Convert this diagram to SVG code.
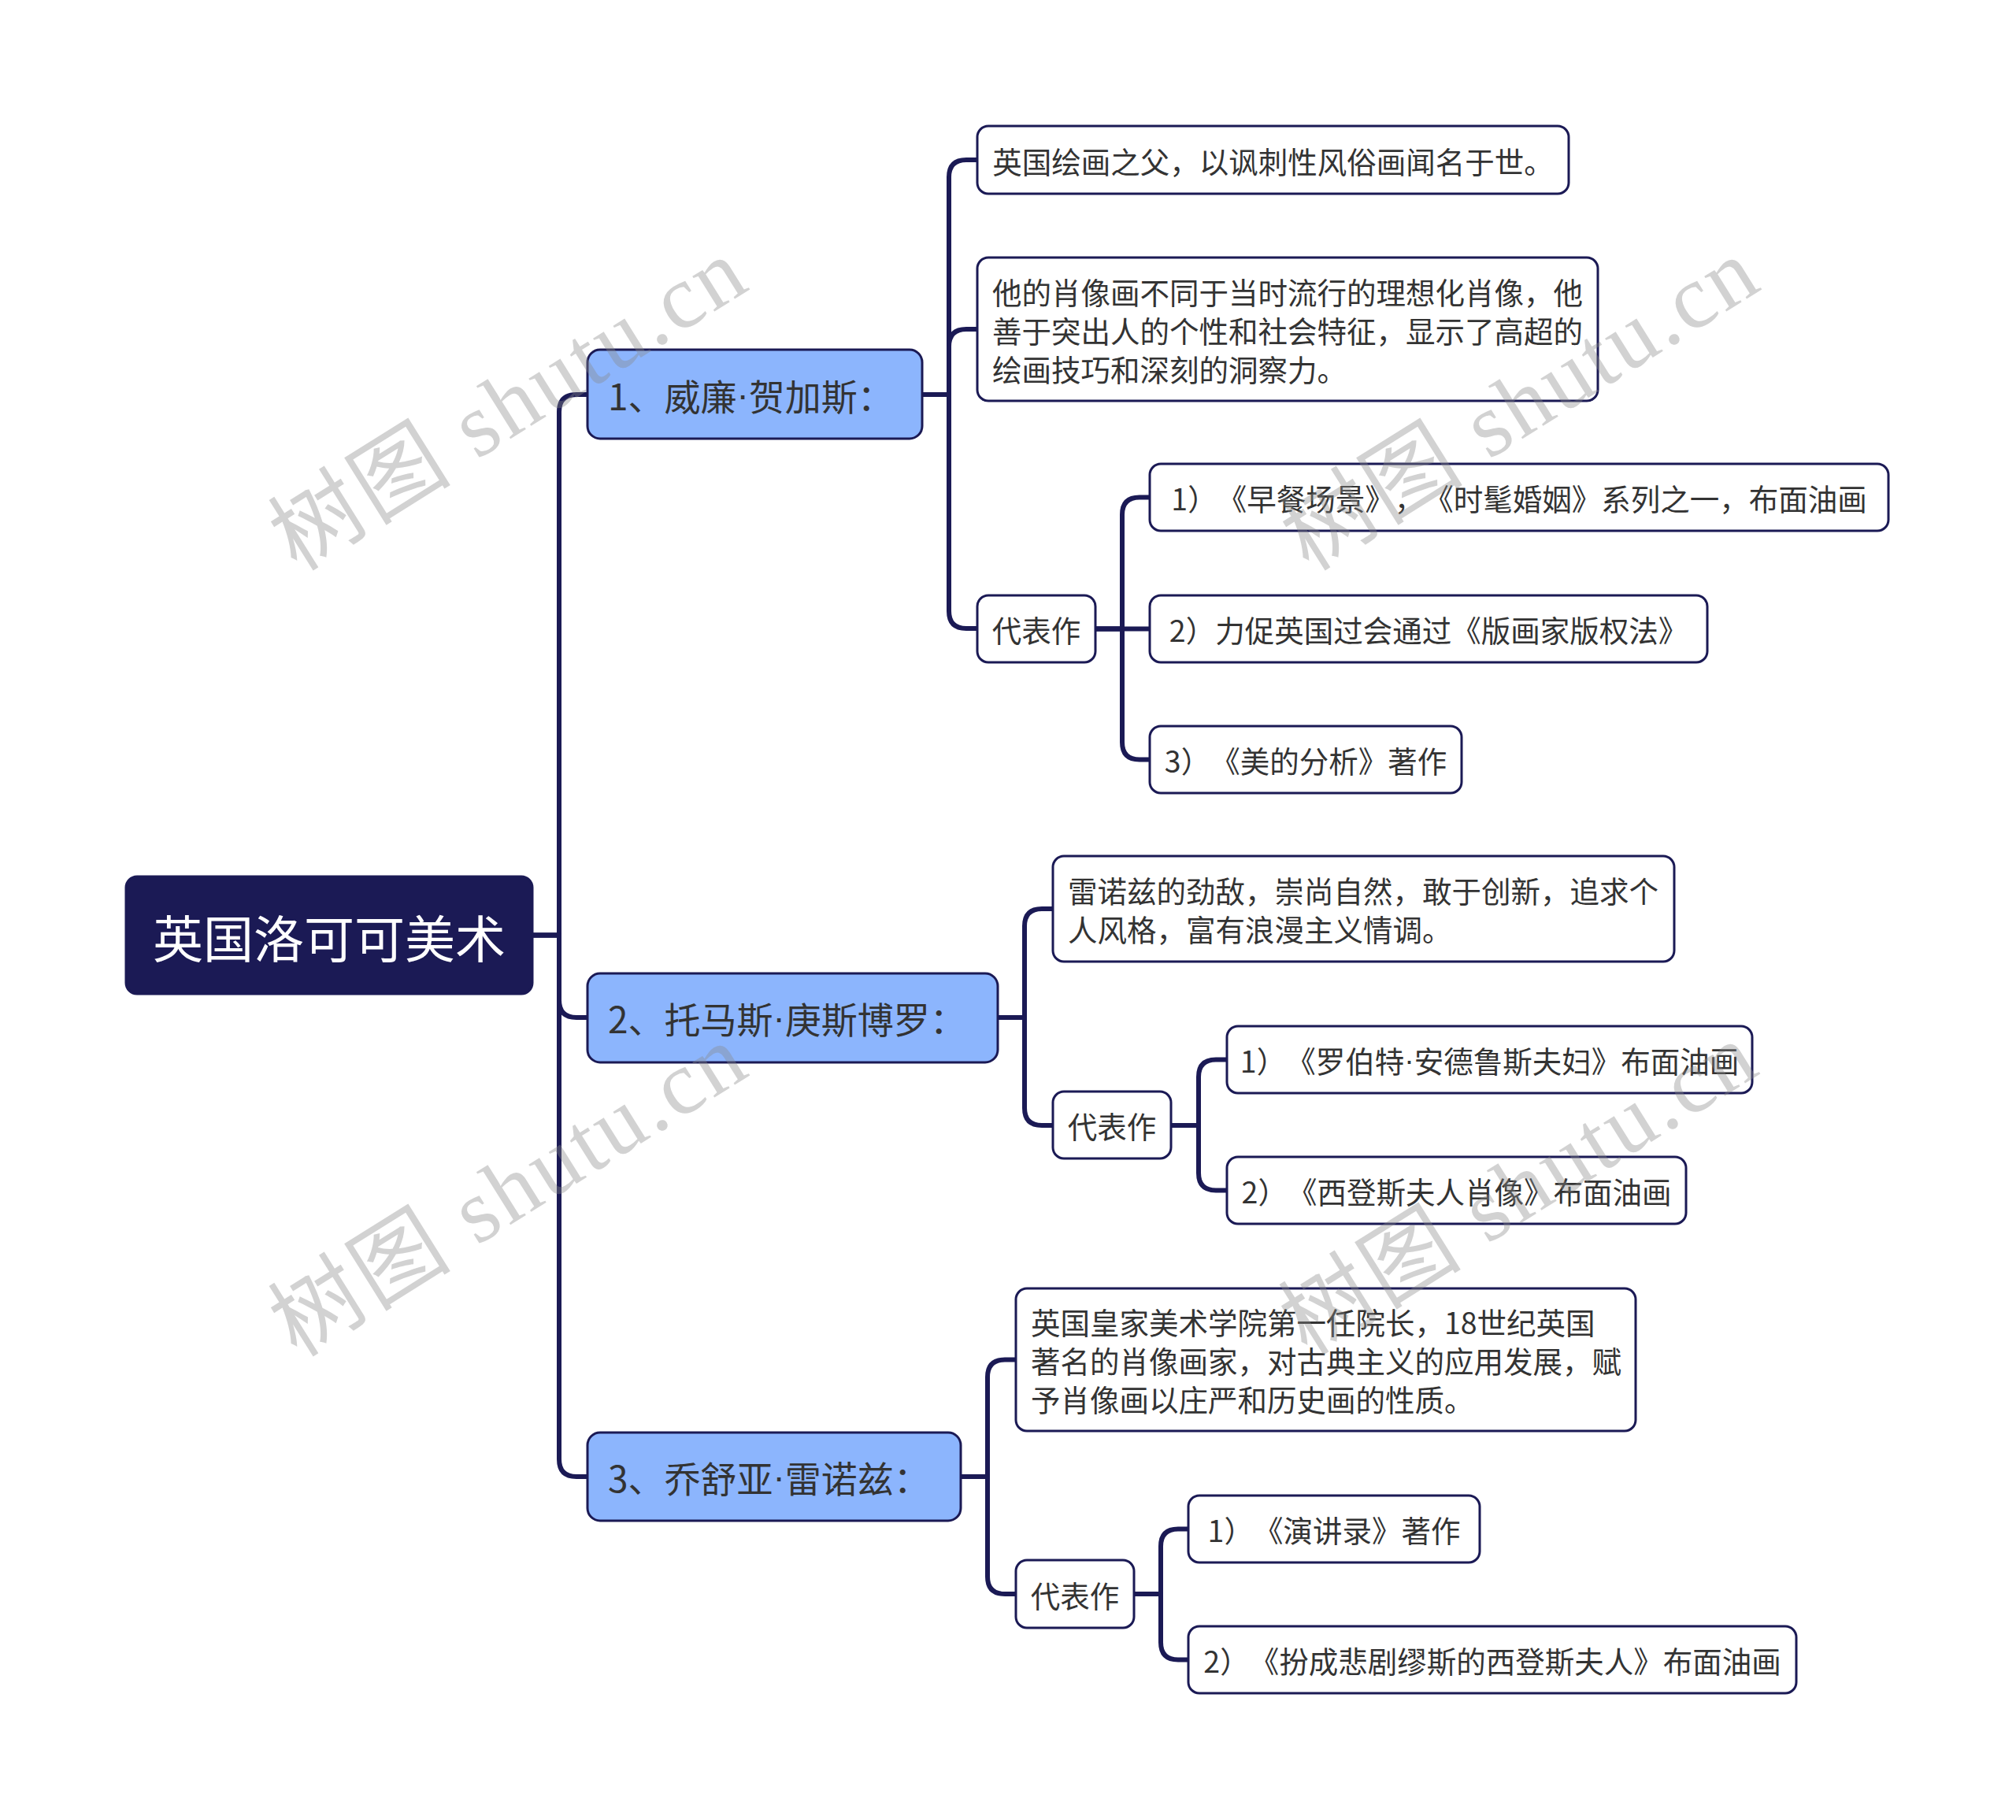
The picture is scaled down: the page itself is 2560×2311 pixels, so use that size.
<svg xmlns="http://www.w3.org/2000/svg" width="2560" height="2311" viewBox="0 0 2560 2311">
<style>
.bg{fill:#ffffff}
.root rect{fill:#1b1a55;stroke:#1b1a55;stroke-width:3}
.root text{fill:#ffffff;font-size:64px}
.l1 rect{fill:#8cb5fd;stroke:#1b1a55;stroke-width:3}
.l1 text{fill:#333333;font-size:46px}
.leaf rect{fill:#ffffff;stroke:#1b1a55;stroke-width:3}
.leaf text{fill:#333333;font-size:37.5px}
text{font-family:"Noto Sans CJK SC","Noto Sans",sans-serif;dominant-baseline:central;text-spacing-trim:space-all;font-feature-settings:"chws" 0,"halt" 0}
.dot{font-family:"Liberation Sans","Noto Sans",sans-serif}
.c text{text-anchor:middle}
#connectors path{fill:none;stroke:#1b1a55;stroke-width:6;stroke-linecap:round;stroke-linejoin:round}
.wm{font-family:"Liberation Serif","Noto Sans CJK SC",serif;font-size:115px;fill:#8a8a8a;fill-opacity:0.38;text-anchor:middle;dominant-baseline:central}
</style>
<rect class="bg" x="0" y="0" width="2560" height="2311"/>
<g id="connectors">
<path d="M676,1187.5 H710 V523 Q710,501 732,501 H746"/>
<path d="M676,1187.5 H710 V1270 Q710,1292 732,1292 H746"/>
<path d="M676,1187.5 H710 V1853 Q710,1875 732,1875 H746"/>
<path d="M1171,501 H1205 V225 Q1205,203 1227,203 H1241"/>
<path d="M1171,501 H1205 V440 Q1205,418 1227,418 H1241"/>
<path d="M1171,501 H1205 V776 Q1205,798 1227,798 H1241"/>
<path d="M1391,798.5 H1425 V653.5 Q1425,631.5 1447,631.5 H1460"/>
<path d="M1391,798.5 H1460"/>
<path d="M1391,798.5 H1425 V942.5 Q1425,964.5 1447,964.5 H1460"/>
<path d="M1267,1292 H1301 V1176 Q1301,1154 1323,1154 H1337"/>
<path d="M1267,1292 H1301 V1407 Q1301,1429 1323,1429 H1337"/>
<path d="M1487,1429 H1522 V1367.5 Q1522,1345.5 1544,1345.5 H1558"/>
<path d="M1487,1429 H1522 V1489.5 Q1522,1511.5 1544,1511.5 H1558"/>
<path d="M1220,1875 H1254 V1748.5 Q1254,1726.5 1276,1726.5 H1290"/>
<path d="M1220,1875 H1254 V2002 Q1254,2024 1276,2024 H1290"/>
<path d="M1440,2024 H1474 V1963.5 Q1474,1941.5 1496,1941.5 H1509"/>
<path d="M1440,2024 H1474 V2085.5 Q1474,2107.5 1496,2107.5 H1509"/>
</g>
<g id="root" class="root c">
<rect x="160" y="1113" width="516" height="149" rx="14"/>
<text x="418" y="1187.5">英国洛可可美术</text>
</g>
<g id="n1" class="l1">
<rect x="746" y="444" width="425" height="113" rx="16"/>
<text x="772" y="501">1、威廉<tspan class="dot">·</tspan>贺加斯：</text>
</g>
<g id="n2" class="l1">
<rect x="746" y="1236" width="521" height="113" rx="16"/>
<text x="772" y="1292">2、托马斯<tspan class="dot">·</tspan>庚斯博罗：</text>
</g>
<g id="n3" class="l1">
<rect x="746" y="1819" width="474" height="112" rx="16"/>
<text x="772" y="1875">3、乔舒亚<tspan class="dot">·</tspan>雷诺兹：</text>
</g>
<g id="n1a" class="leaf c">
<rect x="1241" y="160" width="751" height="86" rx="14"/>
<text x="1616.5" y="203">英国绘画之父，以讽刺性风俗画闻名于世。</text>
</g>
<g id="n1b" class="leaf">
<rect x="1241" y="327" width="788" height="182" rx="14"/>
<text x="1260" y="369">他的肖像画不同于当时流行的理想化肖像，他</text>
<text x="1260" y="418">善于突出人的个性和社会特征，显示了高超的</text>
<text x="1260" y="467">绘画技巧和深刻的洞察力。</text>
</g>
<g id="n1c" class="leaf c">
<rect x="1241" y="756" width="150" height="85" rx="14"/>
<text x="1316" y="798.5">代表作</text>
</g>
<g id="n1c1" class="leaf c">
<rect x="1460" y="589" width="938" height="85" rx="14"/>
<text x="1929" y="631.5">1）《早餐场景》，《时髦婚姻》系列之一，布面油画</text>
</g>
<g id="n1c2" class="leaf c">
<rect x="1460" y="756" width="708" height="85" rx="14"/>
<text x="1814" y="798.5">2）力促英国过会通过《版画家版权法》</text>
</g>
<g id="n1c3" class="leaf c">
<rect x="1460" y="922" width="396" height="85" rx="14"/>
<text x="1658" y="964.5">3）《美的分析》著作</text>
</g>
<g id="n2a" class="leaf">
<rect x="1337" y="1087" width="789" height="134" rx="14"/>
<text x="1356" y="1129.5">雷诺兹的劲敌，崇尚自然，敢于创新，追求个</text>
<text x="1356" y="1178.5">人风格，富有浪漫主义情调。</text>
</g>
<g id="n2b" class="leaf c">
<rect x="1337" y="1386" width="150" height="85" rx="14"/>
<text x="1412" y="1428.5">代表作</text>
</g>
<g id="n2b1" class="leaf c">
<rect x="1558" y="1303" width="667" height="85" rx="14"/>
<text x="1891.5" y="1345.5">1）《罗伯特<tspan class="dot">·</tspan>安德鲁斯夫妇》布面油画</text>
</g>
<g id="n2b2" class="leaf c">
<rect x="1558" y="1469" width="583" height="85" rx="14"/>
<text x="1849.5" y="1511.5">2）《西登斯夫人肖像》布面油画</text>
</g>
<g id="n3a" class="leaf">
<rect x="1290" y="1636" width="787" height="181" rx="14"/>
<text x="1309" y="1677.5">英国皇家美术学院第一任院长，18世纪英国</text>
<text x="1309" y="1726.5">著名的肖像画家，对古典主义的应用发展，赋</text>
<text x="1309" y="1775.5">予肖像画以庄严和历史画的性质。</text>
</g>
<g id="n3b" class="leaf c">
<rect x="1290" y="1981" width="150" height="86" rx="14"/>
<text x="1365" y="2024">代表作</text>
</g>
<g id="n3b1" class="leaf c">
<rect x="1509" y="1899" width="370" height="85" rx="14"/>
<text x="1694" y="1941.5">1）《演讲录》著作</text>
</g>
<g id="n3b2" class="leaf c">
<rect x="1509" y="2065" width="772" height="85" rx="14"/>
<text x="1895" y="2107.5">2）《扮成悲剧缪斯的西登斯夫人》布面油画</text>
</g>
<g id="watermarks">
<text class="wm" x="645" y="514" transform="rotate(-32 645 514)" textLength="680" lengthAdjust="spacing">树图 shutu.cn</text>
<text class="wm" x="1930" y="514" transform="rotate(-32 1930 514)" textLength="680" lengthAdjust="spacing">树图 shutu.cn</text>
<text class="wm" x="645" y="1512" transform="rotate(-32 645 1512)" textLength="680" lengthAdjust="spacing">树图 shutu.cn</text>
<text class="wm" x="1928" y="1510" transform="rotate(-32 1928 1510)" textLength="680" lengthAdjust="spacing">树图 shutu.cn</text>
</g>
</svg>
